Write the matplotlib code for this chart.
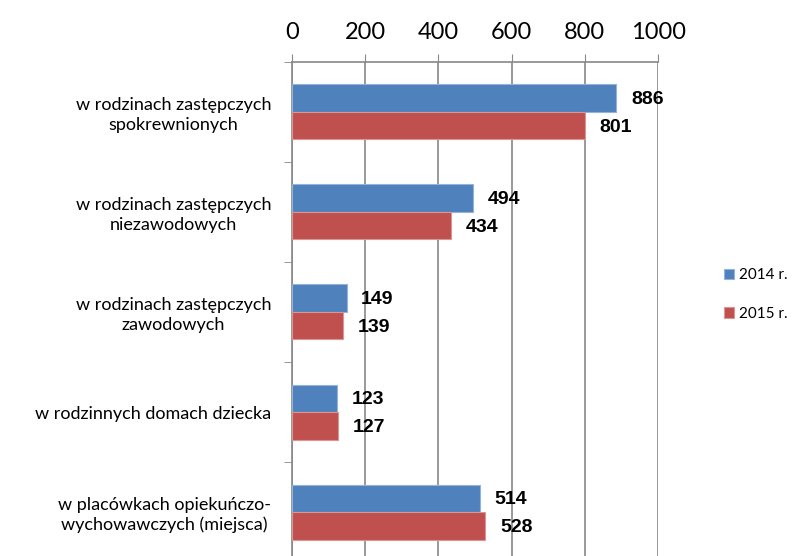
import matplotlib.pyplot as plt
import numpy as np

categories = ['w rodzinach zastępczych\nspokrewnionych',
              'w rodzinach zastępczych\nniezawodowych',
              'w rodzinach zastępczych\nzawodowych',
              'w rodzinnych domach dziecka',
              'w placówkach opiekuńczo-\nwychowawczych (miejsca)']
vals_2014 = [886, 494, 149, 123, 514]
vals_2015 = [801, 434, 139, 127, 528]
series_labels = ['2014 r.', '2015 r.']
ticks = [0, 200, 400, 600, 800, 1000]

plt.rcParams['font.family'] = ['Lato', 'DejaVu Sans']

fig = plt.figure(figsize=(7.95, 5.56), dpi=100)
ax = fig.add_axes([0.3673, -0.0108, 0.4604, 0.8993])

y = np.arange(len(categories))
h = 0.275
b1 = ax.barh(y - h / 2, vals_2014, height=h, color='#4F81BD', edgecolor='#95B3D7', linewidth=0.8, label=series_labels[0], zorder=3)
b2 = ax.barh(y + h / 2, vals_2015, height=h, color='#C0504D', edgecolor='#D99694', linewidth=0.8, label=series_labels[1], zorder=3)

for bars, vals in ((b1, vals_2014), (b2, vals_2015)):
    for bar, v in zip(bars, vals):
        ax.text(v + 40, bar.get_y() + bar.get_height() / 2 + 0.015, str(v), va='center', ha='left',
                fontsize=14, fontweight='bold', family=['Liberation Sans', 'DejaVu Sans'])

ax.set_xlim(0, 1000)
ax.set_ylim(len(categories) - 0.5, -0.5)
ax.xaxis.tick_top()
ax.set_xticks(ticks)
ax.tick_params(axis='x', labelsize=17, length=6, color='#888888', pad=8)
ax.set_yticks(np.arange(len(categories) + 1) - 0.5, minor=True)
ax.set_yticks(y)
ax.set_yticklabels(categories, fontsize=13, multialignment='center', linespacing=1.25)
ax.tick_params(axis='y', which='major', length=0, pad=15)
ax.tick_params(axis='y', which='minor', length=6, color='#888888')
ax.grid(axis='x', color='#888888', linewidth=1.2, zorder=0)
for s in ['right', 'bottom']:
    ax.spines[s].set_visible(False)
for s in ['top', 'left']:
    ax.spines[s].set_color('#888888')
    ax.spines[s].set_linewidth(1.2)

fig.legend(handles=[b1, b2], labels=series_labels, loc='center left', bbox_to_anchor=(0.893, 0.47),
           frameon=False, fontsize=11, handlelength=0.7, handleheight=0.7, handletextpad=0.3,
           labelspacing=1.6)

fig.savefig('out.png', dpi=100)
